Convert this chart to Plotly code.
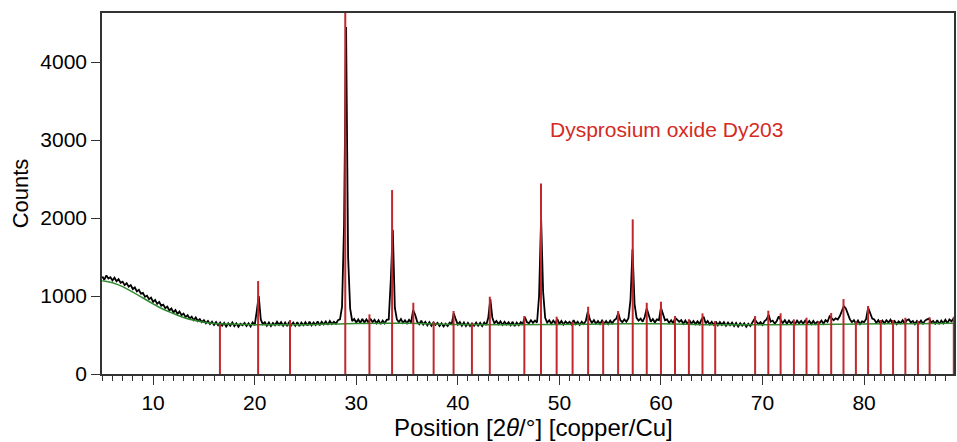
import numpy as np
import plotly.graph_objects as go

# ---- measured scan (counts), 0.2 deg steps from 5.0 to 89.0 ----
scan_start = 5.0
scan_step = 0.2
counts = [
    1250, 1210, 1265, 1225, 1240,   # 5
    1200, 1235, 1190, 1215, 1170,   # 6
    1185, 1140, 1165, 1120, 1140,   # 7
    1090, 1110, 1060, 1080, 1030,   # 8
    1040, 990, 1005, 960, 980,      # 9
    925, 950, 900, 925, 875,        # 10
    890, 845, 865, 815, 840,        # 11
    790, 820, 770, 800, 755,        # 12
    775, 730, 755, 710, 735,        # 13
    690, 725, 680, 705, 665,        # 14
    690, 650, 680, 640, 670,        # 15
    630, 665, 625, 660, 620,        # 16
    655, 610, 650, 620, 660,        # 17
    615, 650, 605, 645, 625,        # 18
    655, 615, 650, 610, 660,        # 19
    625, 800, 1000, 700, 640,       # 20
    665, 620, 660, 615, 655,        # 21
    625, 670, 630, 665, 620,        # 22
    660, 615, 670, 625, 660,        # 23
    620, 665, 615, 660, 625,        # 24
    665, 620, 670, 625, 660,        # 25
    630, 675, 625, 670, 635,        # 26
    675, 630, 680, 640, 670,        # 27
    645, 690, 700, 860, 1900,       # 28
    4450, 1500, 840, 680, 705,      # 29
    660, 700, 655, 705, 660,        # 30
    700, 660, 710, 665, 695,        # 31
    650, 690, 640, 685, 650,        # 32
    695, 700, 1200, 1850, 850,      # 33
    700, 665, 705, 655, 690,        # 34
    650, 695, 660, 820, 760,        # 35
    670, 640, 685, 635, 670,        # 36
    625, 665, 620, 660, 630,        # 37
    655, 615, 650, 610, 645,        # 38
    615, 660, 640, 780, 700,        # 39
    635, 665, 620, 660, 615,        # 40
    655, 615, 650, 620, 660,        # 41
    620, 655, 615, 660, 630,        # 42
    720, 960, 720, 650, 680,        # 43
    640, 675, 630, 670, 635,        # 44
    665, 625, 670, 615, 660,        # 45
    625, 665, 640, 730, 665,        # 46
    650, 690, 655, 685, 660,        # 47
    1000, 2000, 1050, 720, 660,     # 48
    690, 645, 685, 650, 705,        # 49
    640, 680, 635, 675, 645,        # 50
    670, 635, 690, 640, 670,        # 51
    630, 670, 640, 680, 800,        # 52
    700, 655, 690, 645, 680,        # 53
    640, 685, 645, 680, 640,        # 54
    685, 650, 690, 710, 780,        # 55
    690, 665, 700, 670, 715,        # 56
    950, 1600, 900, 720, 685,       # 57
    710, 670, 730, 840, 760,        # 58
    670, 705, 660, 700, 690,        # 59
    850, 760, 690, 700, 655,        # 60
    690, 650, 720, 690, 670,        # 61
    690, 645, 685, 640, 690,        # 62
    645, 680, 640, 675, 640,        # 63
    700, 735, 650, 680, 635,        # 64
    670, 630, 675, 625, 665,        # 65
    630, 665, 620, 660, 625,        # 66
    660, 615, 655, 610, 650,        # 67
    620, 650, 605, 645, 615,        # 68
    655, 705, 670, 640, 665,        # 69
    630, 680, 700, 760, 670,        # 70
    685, 645, 680, 740, 690,        # 71
    655, 690, 645, 685, 650,        # 72
    675, 640, 685, 650, 680,        # 73
    645, 685, 650, 680, 640,        # 74
    680, 640, 670, 650, 685,        # 75
    645, 690, 670, 740, 710,        # 76
    690, 715, 700, 740, 800,        # 77
    870, 840, 760, 700, 665,        # 78
    690, 645, 685, 640, 675,        # 79
    665, 705, 850, 790, 710,        # 80
    700, 655, 690, 645, 685,        # 81
    650, 690, 660, 695, 645,        # 82
    680, 640, 675, 650, 690,        # 83
    645, 690, 700, 660, 680,        # 84
    640, 680, 650, 685, 645,        # 85
    685, 700, 710, 660, 680,        # 86
    645, 690, 640, 685, 650,        # 87
    695, 650, 700, 675, 710,        # 88
    690,                            # 89
]

# ---- fitted background (green) ----
bg_pos = [5, 6, 7, 8, 9, 10, 11, 12, 13, 14, 15, 16, 18, 20, 25, 30, 35, 40, 45,
          50, 55, 60, 65, 70, 75, 80, 85, 89]
bg_counts = [1195, 1170, 1120, 1050, 975, 900, 830, 775, 725, 690, 665, 648, 638,
             632, 632, 648, 650, 636, 632, 636, 642, 645, 632, 632, 636, 642, 645, 650]

# ---- reference pattern: Dysprosium oxide Dy2O3 sticks ----
ref_pos = [16.58, 20.34, 23.48, 28.92, 31.30, 33.53, 35.62, 37.62, 39.58, 41.39,
           43.15, 46.55, 48.19, 49.73, 51.30, 52.83, 54.31, 55.78, 57.22, 58.60,
           60.00, 61.38, 62.75, 64.09, 65.34, 69.27, 70.57, 71.78, 73.09, 74.33,
           75.51, 76.76, 77.97, 79.19, 80.39, 81.64, 82.85, 84.06, 85.30, 86.45,
           88.83]
ref_counts = [637, 1192, 692, 4700, 765, 2359, 914, 671, 808, 650,
              991, 744, 2444, 735, 671, 863, 680, 808, 1983, 914,
              927, 744, 701, 778, 680, 744, 812, 778, 701, 722,
              680, 782, 961, 671, 872, 692, 692, 722, 680, 727,
              735]

y_ticks = [0, 1000, 2000, 3000, 4000]
x_ticks = [10, 20, 30, 40, 50, 60, 70, 80]
label_text = "Dysprosium oxide Dy203"

scan_pos = np.round(scan_start + scan_step * np.arange(len(counts)), 2)

stick_x, stick_y = [], []
for p, h in zip(ref_pos, ref_counts):
    stick_x += [p, p, None]
    stick_y += [0, h, None]

FONT = "Liberation Sans, Arial, Helvetica, sans-serif"
fig = go.Figure()
fig.add_trace(go.Scatter(x=scan_pos, y=counts, mode="lines",
                         line=dict(color="black", width=1.8), hoverinfo="skip"))
fig.add_trace(go.Scatter(x=bg_pos, y=bg_counts, mode="lines",
                         line=dict(color="#2f8a2f", width=1.5, shape="spline"),
                         hoverinfo="skip"))
fig.add_trace(go.Scatter(x=stick_x, y=stick_y, mode="lines",
                         line=dict(color="#c0282c", width=2), hoverinfo="skip"))

fig.add_annotation(x=60.5, y=3140, xref="x", yref="y", text=label_text,
                   showarrow=False, font=dict(family=FONT, size=21, color="#d42a24"))
fig.add_annotation(x=0.507, y=-0.105, xref="paper", yref="paper", yanchor="top",
                   text="Position [2<i>θ</i>/°] [copper/Cu]", showarrow=False,
                   font=dict(family=FONT, size=24, color="black"))

fig.update_layout(
    width=957, height=442,
    margin=dict(l=102, r=1, t=13, b=68),
    paper_bgcolor="white", plot_bgcolor="white",
    showlegend=False,
    font=dict(family=FONT, size=21, color="black"),
)
fig.update_xaxes(range=[4.97, 88.85], tickvals=x_ticks, ticks="outside", ticklen=9,
                 tickwidth=1.2, tickcolor="#333", showline=True, linecolor="#333",
                 linewidth=1.5, mirror=True, showgrid=False, zeroline=False,
                 tickfont=dict(size=21),
                 minor=dict(dtick=1, tick0=0, ticks="outside", ticklen=5,
                            tickwidth=1, tickcolor="#333", showgrid=False))
fig.update_yaxes(range=[0, 4630], tickvals=y_ticks, ticks="outside", ticklen=9,
                 tickwidth=1.2, tickcolor="#333", showline=True, linecolor="#333",
                 linewidth=1.5, mirror=True, showgrid=False, zeroline=False,
                 tickfont=dict(size=21),
                 title=dict(text="Counts", font=dict(size=22), standoff=6))

fig.write_html("out.html")
